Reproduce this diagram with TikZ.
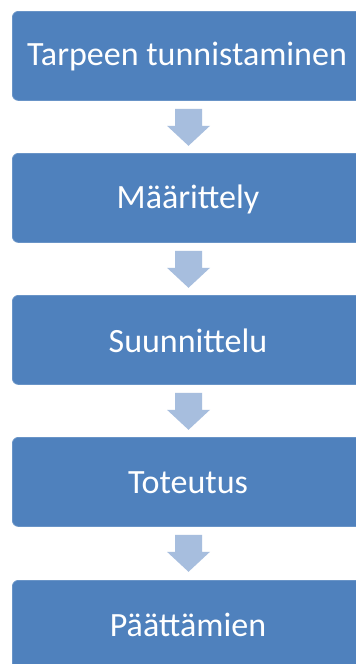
\documentclass[tikz,border=0pt]{standalone}
\usepackage{fontspec}
\setmainfont{Carlito}
\usetikzlibrary{calc}
\definecolor{boxblue}{RGB}{79,129,189}
\definecolor{arrowblue}{RGB}{167,190,222}
\begin{document}
\begin{tikzpicture}[x=1pt,y=-1pt,
  stagebox/.style={fill=boxblue, draw=boxblue!85!white, line width=0.8pt, rounded corners=6pt,
    minimum width=352pt, minimum height=89pt, inner sep=0pt, anchor=north west},
  stagetext/.style={text=white, font=\fontsize{34}{38}\selectfont, inner sep=0pt},
  flowarrow/.style={fill=arrowblue, draw=none}]
\useasboundingbox (0,0) rectangle (356,664);
\clip (0,0) rectangle (356,664);
\fill[white] (0,0) rectangle (356,664);
\node[stagebox] (b1) at (12,11) {};
\node[stagebox] (b2) at (12,153) {};
\node[stagebox] (b3) at (12,295) {};
\node[stagebox] (b4) at (12,437) {};
\node[stagebox] (b5) at (12,580) {};
\node[stagetext] (t1) at (187,57) {Tarpeen tunnistaminen};
\node[stagetext] (t2) at (188,199) {Määrittely};
\node[stagetext] (t3) at (188,341) {Suunnittelu};
\node[stagetext] (t4) at (188,483) {Toteutus};
\node[stagetext] (t5) at (188,625) {Päättämien};
\foreach \a in {b1,b2,b3,b4}{
  \fill[flowarrow] ($(\a.south west)+(163,8)$) -- ++(27,0) -- ++(0,17) -- ++(8,0)
     -- ++(-21.5,20) -- ++(-21.5,-20) -- ++(8,0) -- cycle;
}
\end{tikzpicture}
\end{document}
